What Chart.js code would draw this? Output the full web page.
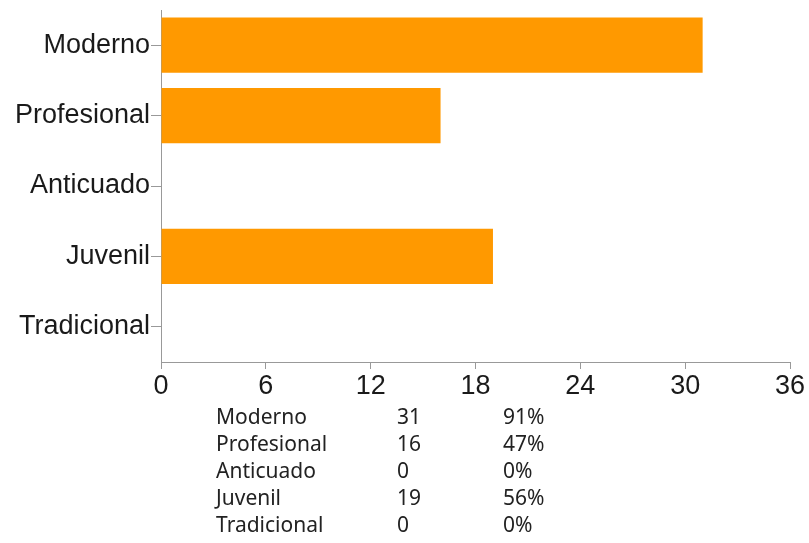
<!DOCTYPE html>
<html>
<head>
<meta charset="utf-8">
<script src="https://cdn.jsdelivr.net/npm/chart.js@4/dist/chart.umd.min.js"></script>
<style>
	body { margin: 0; background: #fff; }
	#wrap { position: relative; width: 809px; height: 543px; }
	#summary { position: absolute; left: 216px; top: 403px; font-family: "Noto Sans", sans-serif; font-size: 21px; color: #222; }
	#summary div { height: 27px; line-height: 27px; white-space: nowrap; }
	#summary span { display: inline-block; }
	#summary .c1 { width: 181px; }
	#summary .c2 { width: 106px; }
</style>
</head>
<body>
<div id="wrap">
	<canvas id="bar-chartcanvas" width="809" height="543"></canvas>
	<div id="summary"></div>
</div>
<script>
// chart data
var categories = ["Moderno", "Profesional", "Anticuado", "Juvenil", "Tradicional"];
var counts = [31, 16, 0, 19, 0];
var percents = ["91%", "47%", "0%", "56%", "0%"];
var xTicks = [0, 6, 12, 18, 24, 30, 36];

// summary table under the chart
var summary = document.getElementById("summary");
categories.forEach(function(name, i) {
	var row = document.createElement("div");
	row.innerHTML = '<span class="c1">' + name + '</span><span class="c2">' + counts[i] + '</span><span>' + percents[i] + '</span>';
	summary.appendChild(row);
});

var labelFont = { family : "'Liberation Sans', Arial, sans-serif", size : 27 };

var ctx = document.getElementById("bar-chartcanvas");
var barChart = new Chart(ctx, {
	type : "bar",
	data : {
		labels : categories,
		datasets : [
			{
				data : counts,
				backgroundColor : "#ff9900",
				borderWidth : 0,
				categoryPercentage : 1,
				barPercentage : 0.785
			}
		]
	},
	options : {
		indexAxis : "y",
		responsive : false,
		animation : false,
		layout : {
			padding : { top : 10, right : 19, bottom : 145, left : 0 }
		},
		plugins : {
			legend : { display : false },
			tooltip : { enabled : false }
		},
		scales : {
			x : {
				min : 0,
				max : 36,
				afterBuildTicks : function(scale) {
					scale.ticks = xTicks.map(function(v) { return { value : v }; });
				},
				afterFit : function(scale) { scale.height = 36; },
				border : { color : "#999", width : 1 },
				grid : { drawOnChartArea : false, drawTicks : true, tickLength : 7, color : "#999" },
				ticks : { color : "#1a1a1a", padding : 1, maxRotation : 0, font : labelFont }
			},
			y : {
				afterFit : function(scale) {
					scale.width = 161;
					scale.paddingTop = 0;
					scale.paddingBottom = 0;
				},
				border : { color : "#999", width : 1 },
				grid : { offset : false, drawOnChartArea : false, drawTicks : true, tickLength : 10, color : "#999" },
				ticks : { color : "#1a1a1a", padding : 1, font : labelFont }
			}
		}
	}
});
</script>
</body>
</html>
